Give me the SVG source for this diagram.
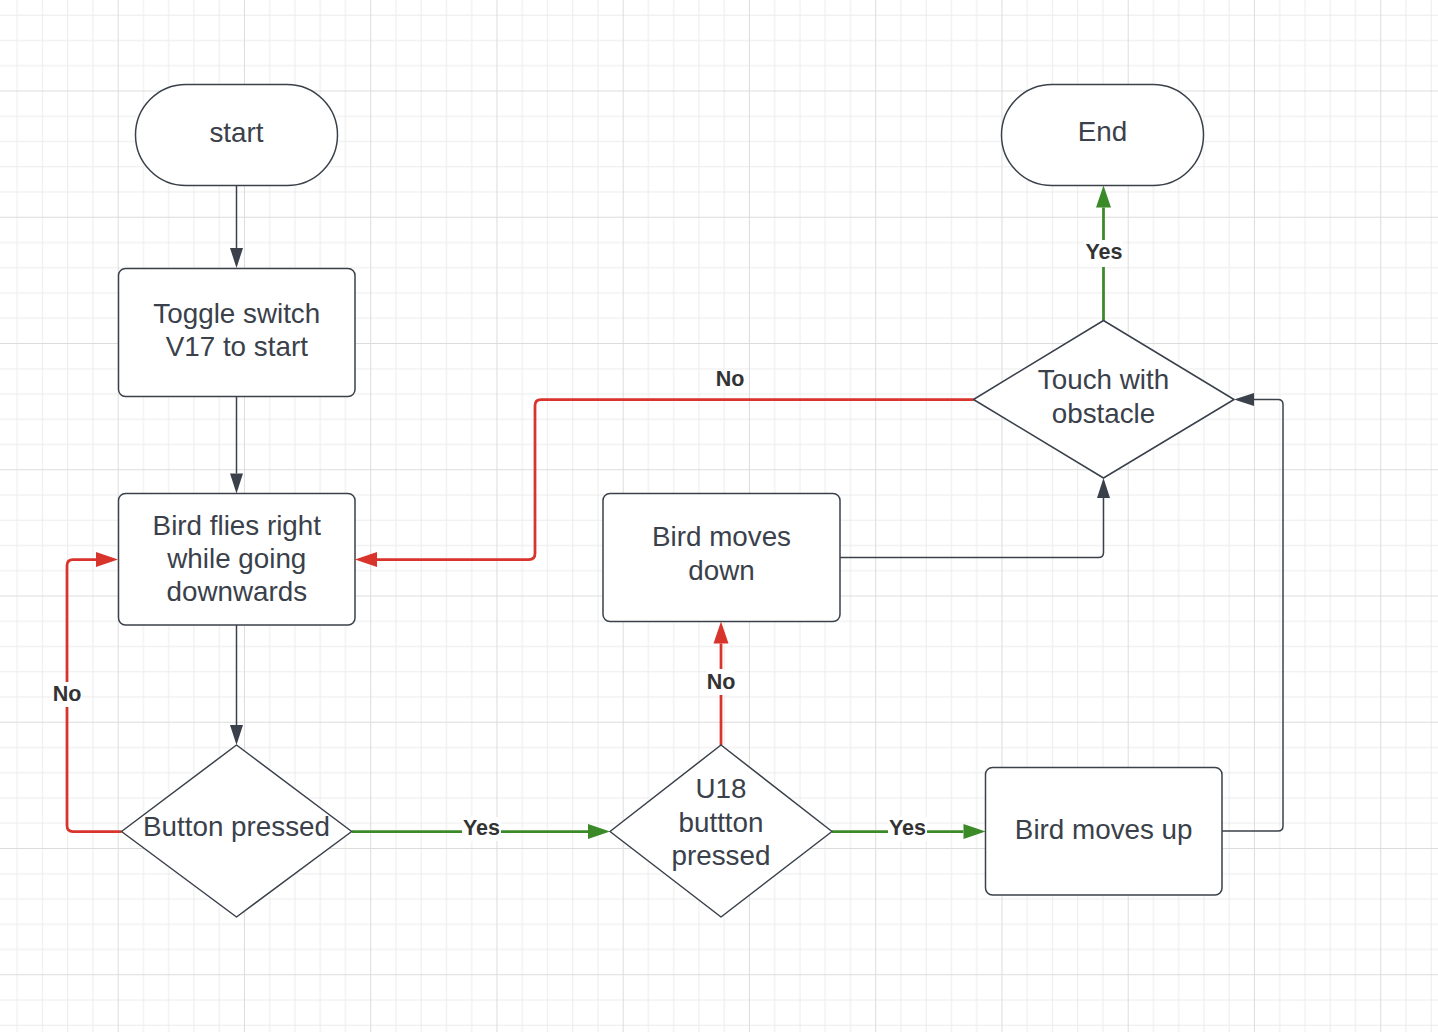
<svg xmlns="http://www.w3.org/2000/svg" width="1438" height="1032" viewBox="0 0 1438 1032">
<defs>
<pattern id="grid" patternUnits="userSpaceOnUse" x="-8.55" y="-35.75" width="126.25" height="126.25">
<path d="M25.75,0 V126.25 M51,0 V126.25 M76.25,0 V126.25 M101.5,0 V126.25 M0,25.75 H126.25 M0,51 H126.25 M0,76.25 H126.25 M0,101.5 H126.25" stroke="#ececec" stroke-width="1" fill="none"/>
<path d="M0.5,0 V126.25 M0,0.5 H126.25" stroke="#dcdcdc" stroke-width="1" fill="none"/>
</pattern>
<marker id="ad" markerUnits="userSpaceOnUse" markerWidth="20" markerHeight="13" refX="0" refY="6.5" orient="auto" overflow="visible"><path d="M0,0 L20,6.5 L0,13 z" fill="#3a414a"/></marker>
<marker id="ar" markerUnits="userSpaceOnUse" markerWidth="22" markerHeight="15" refX="0" refY="7.5" orient="auto" overflow="visible"><path d="M0,0 L22,7.5 L0,15 z" fill="#d9342b"/></marker>
<marker id="ag" markerUnits="userSpaceOnUse" markerWidth="22" markerHeight="15" refX="0" refY="7.5" orient="auto" overflow="visible"><path d="M0,0 L22,7.5 L0,15 z" fill="#3a8a27"/></marker>
</defs>
<style>
.node{fill:#ffffff;stroke:#3a414a;stroke-width:1.5;stroke-linejoin:round}
.t{font-family:"Liberation Sans",Arial,sans-serif;font-size:27.8px;fill:#3a414a;text-anchor:middle}
.lbl{font-family:"Liberation Sans",Arial,sans-serif;font-size:21.5px;font-weight:bold;fill:#333333;text-anchor:middle}
.bg{fill:#ffffff}
.cd{fill:none;stroke:#3a414a;stroke-width:1.5}
.cr{fill:none;stroke:#d9342b;stroke-width:2.75}
.cg{fill:none;stroke:#3a8a27;stroke-width:2.75}
</style>
<rect x="0" y="0" width="1438" height="1032" fill="#ffffff"/>
<rect x="0" y="0" width="1438" height="1032" fill="url(#grid)"/>

<g id="connectors">
<path class="cd" d="M236.5,185.5 V248" marker-end="url(#ad)"/>
<path class="cd" d="M236.5,397 V473.5" marker-end="url(#ad)"/>
<path class="cd" d="M236.5,625 V725" marker-end="url(#ad)"/>
<path class="cr" d="M121.5,831.5 H73 Q67,831.5 67,825.5 V565.5 Q67,559.5 73,559.5 H96" marker-end="url(#ar)"/>
<path class="cg" d="M351.7,831.5 H588" marker-end="url(#ag)"/>
<path class="cr" d="M721,745 V643.5" marker-end="url(#ar)"/>
<path class="cg" d="M832,831.5 H963.5" marker-end="url(#ag)"/>
<path class="cd" d="M840,557.5 H1098.5 Q1103.5,557.5 1103.5,552.5 V498" marker-end="url(#ad)"/>
<path class="cd" d="M1222,831 H1278 Q1283,831 1283,826 V404.5 Q1283,399.5 1278,399.5 H1254" marker-end="url(#ad)"/>
<path class="cr" d="M973.5,399.5 H541 Q535,399.5 535,405.5 V553.5 Q535,559.5 529,559.5 H377" marker-end="url(#ar)"/>
<path class="cg" d="M1103.5,320.5 V207.5" marker-end="url(#ag)"/>

<rect class="bg" x="52" y="682" width="30" height="25"/>
<text class="lbl" x="67" y="701">No</text>
<rect class="bg" x="462" y="817" width="39" height="24"/>
<text class="lbl" x="481.5" y="835">Yes</text>
<rect class="bg" x="707" y="669" width="28" height="26"/>
<text class="lbl" x="721" y="688.5">No</text>
<rect class="bg" x="888" y="817" width="39" height="24"/>
<text class="lbl" x="907.5" y="835">Yes</text>
<text class="lbl" x="730" y="386">No</text>
<rect class="bg" x="1084" y="240" width="39" height="27"/>
<text class="lbl" x="1104" y="258.5">Yes</text>
</g>

<g id="start">
<rect class="node" x="135.5" y="84.5" width="202" height="101" rx="50.5" ry="50.5"/>
<text class="t" x="236.5" y="141.7">start</text>
</g>
<g id="end">
<rect class="node" x="1001.5" y="84.5" width="202" height="101" rx="50.5" ry="50.5"/>
<text class="t" x="1102.5" y="141">End</text>
</g>
<g id="toggle">
<rect class="node" x="118.5" y="268.5" width="236.5" height="128" rx="7"/>
<text class="t" x="236.8" y="323.3">Toggle switch</text>
<text class="t" x="236.8" y="355.5">V17 to start</text>
</g>
<g id="bird-flies">
<rect class="node" x="118.5" y="493.5" width="236.5" height="131.5" rx="7"/>
<text class="t" x="236.8" y="535">Bird flies right</text>
<text class="t" x="236.8" y="568">while going</text>
<text class="t" x="236.8" y="601">downwards</text>
</g>
<g id="button-pressed">
<path class="node" d="M236.5,745 L351.7,831.5 L236.5,917 L121.5,831.5 Z"/>
<text class="t" x="236.5" y="836">Button pressed</text>
</g>
<g id="u18">
<path class="node" d="M721,745 L832,831.5 L721,917 L610,831.5 Z"/>
<text class="t" x="721" y="798">U18</text>
<text class="t" x="721" y="831.5">buttton</text>
<text class="t" x="721" y="865">pressed</text>
</g>
<g id="bird-down">
<rect class="node" x="603" y="493.5" width="237" height="128" rx="7"/>
<text class="t" x="721.5" y="546">Bird moves</text>
<text class="t" x="721.5" y="580">down</text>
</g>
<g id="bird-up">
<rect class="node" x="985.5" y="767.5" width="236.5" height="127.5" rx="7"/>
<text class="t" x="1103.7" y="839">Bird moves up</text>
</g>
<g id="touch">
<path class="node" d="M1103.5,320.5 L1234,399.5 L1103.5,478 L973.5,399.5 Z"/>
<text class="t" x="1103.5" y="388.5">Touch with</text>
<text class="t" x="1103.5" y="422.7">obstacle</text>
</g>
</svg>
